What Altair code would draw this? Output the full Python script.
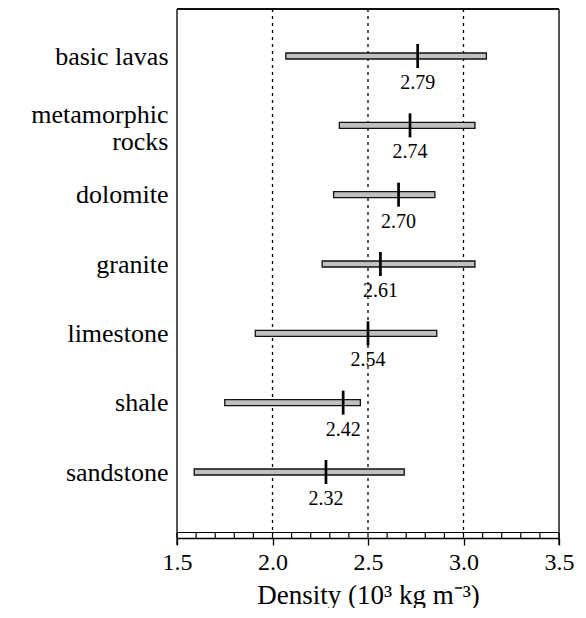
import altair as alt
import pandas as pd

rocks = ["basic lavas", "metamorphic|rocks", "dolomite", "granite", "limestone", "shale", "sandstone"]
low = [2.07, 2.35, 2.32, 2.26, 1.91, 1.75, 1.59]
high = [3.12, 3.06, 2.85, 3.06, 2.86, 2.46, 2.69]
marker = [2.76, 2.72, 2.66, 2.565, 2.50, 2.37, 2.28]
mean_labels = ["2.79", "2.74", "2.70", "2.61", "2.54", "2.42", "2.32"]

major_ticks = [1.5, 2.0, 2.5, 3.0, 3.5]
grid_vals = [2.0, 2.5, 3.0]
minor_ticks = [1.5, 1.6, 1.7, 1.8, 1.9, 2.0, 2.1, 2.2, 2.3, 2.4, 2.5, 2.6, 2.7,
               2.8, 2.9, 3.0, 3.1, 3.2, 3.3, 3.4, 3.5]

W, H = 382, 529
FONT = "Liberation Serif"

df = pd.DataFrame({"rock": rocks, "low": low, "high": high,
                   "marker": marker, "label": mean_labels})
grid_df = pd.DataFrame({"g": grid_vals})
minor_df = pd.DataFrame({"t": minor_ticks})
edge_df = pd.DataFrame({"e": [1.5, 3.5]})

xscale = alt.Scale(domain=[1.5, 3.5], nice=False, zero=False)
yscale = alt.Scale(type="point", domain=rocks, range=[47, 463], padding=0)

xaxis = alt.Axis(values=major_ticks, format=".1f", grid=False,
                 domainColor="black", domainWidth=1.3,
                 tickColor="black", tickWidth=1.3, tickSize=7,
                 labelFont=FONT, labelFontSize=24, labelColor="black",
                 labelPadding=5, labelFlush=False,
                 title="Density  (10³ kg m⁻³)", titleFont=FONT,
                 titleFontSize=27, titleFontWeight="normal", titleColor="black",
                 titlePadding=8)
yaxis = alt.Axis(title=None, domain=False, ticks=False, grid=False,
                 labelFont=FONT, labelFontSize=26, labelColor="black",
                 labelPadding=9, labelLimit=300, labelLineHeight=27,
                 labelOffset={"condition": {"test": "indexof(datum.value, '|') >= 0",
                                            "value": -11},
                              "value": 0},
                 labelExpr="split(datum.label, '|')")

grid = alt.Chart(grid_df).mark_rule(color="black", strokeWidth=1.3,
                                    strokeDash=[3, 4]).encode(
    x=alt.X("g:Q", scale=xscale, axis=xaxis),
    y=alt.value(0), y2=alt.value(H - 5.5))

minor = alt.Chart(minor_df).mark_rule(color="black", strokeWidth=1.2).encode(
    x=alt.X("t:Q", scale=xscale),
    y=alt.value(H - 5.5), y2=alt.value(H))

strip = alt.Chart(minor_df).mark_rule(color="black", strokeWidth=1.2).encode(
    x=alt.value(0), x2=alt.value(W), y=alt.value(H - 5.5))

top = alt.Chart(edge_df).mark_rule(color="black", strokeWidth=1.3).encode(
    x=alt.value(0), x2=alt.value(W), y=alt.value(0))

sides = alt.Chart(edge_df).mark_rule(color="black", strokeWidth=1.3).encode(
    x=alt.X("e:Q", scale=xscale), y=alt.value(0), y2=alt.value(H + 7))

bars = alt.Chart(df).mark_bar(height=6, fill="#c0c0c0", stroke="#111",
                              strokeWidth=1.3, opacity=1).encode(
    x=alt.X("low:Q", scale=xscale),
    x2="high:Q",
    y=alt.Y("rock:N", scale=yscale, axis=yaxis, sort=rocks))

ticks = alt.Chart(df).mark_tick(color="black", thickness=2.7, size=24,
                                opacity=1).encode(
    x=alt.X("marker:Q", scale=xscale),
    y=alt.Y("rock:N", scale=yscale, sort=rocks))

texts = alt.Chart(df).mark_text(font=FONT, fontSize=20, color="black",
                                dy=27, align="center", baseline="middle").encode(
    x=alt.X("marker:Q", scale=xscale),
    y=alt.Y("rock:N", scale=yscale, sort=rocks),
    text="label:N")

chart = alt.layer(grid, minor, strip, top, sides, bars, ticks, texts).properties(
    width=W, height=H,
    autosize=alt.AutoSizeParams(type="none"),
    padding={"left": 169, "top": 1, "right": 19, "bottom": 70},
).configure_view(stroke=None).configure(background="white")

chart.save("out.html", embed_options={"renderer": "svg", "actions": False})
